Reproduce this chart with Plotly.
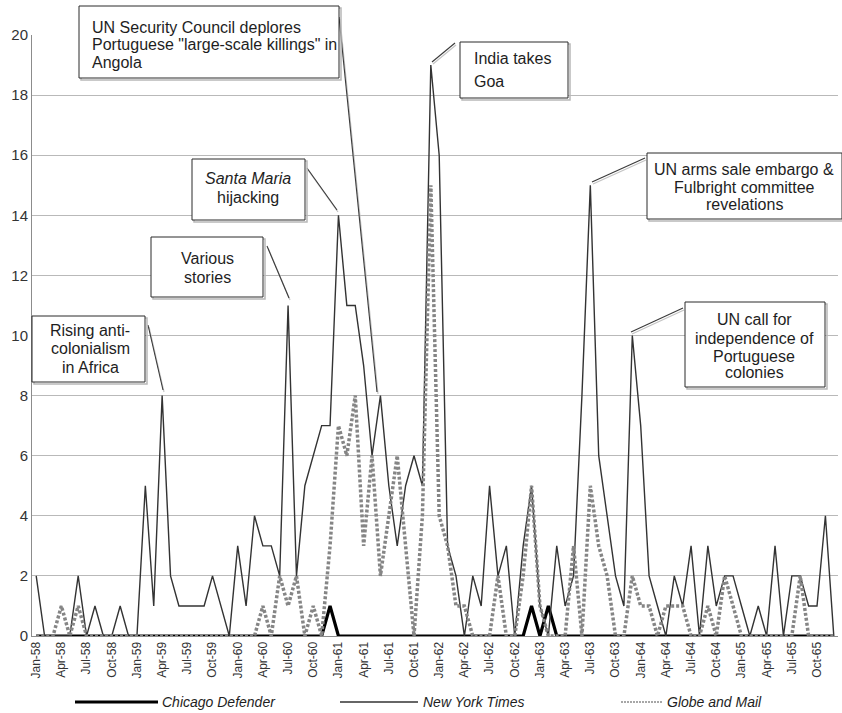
import plotly.graph_objects as go

# ---------------- data ----------------
MONTH_ABBR = ["Jan", "Feb", "Mar", "Apr", "May", "Jun",
              "Jul", "Aug", "Sep", "Oct", "Nov", "Dec"]
YEARS = [58, 59, 60, 61, 62, 63, 64, 65]
months = [f"{m}-{y}" for y in YEARS for m in MONTH_ABBR]

chicago_defender = [
    0, 0, 0, 0, 0, 0, 0, 0, 0, 0, 0, 0,
    0, 0, 0, 0, 0, 0, 0, 0, 0, 0, 0, 0,
    0, 0, 0, 0, 0, 0, 0, 0, 0, 0, 0, 1,
    0, 0, 0, 0, 0, 0, 0, 0, 0, 0, 0, 0,
    0, 0, 0, 0, 0, 0, 0, 0, 0, 0, 0, 1,
    0, 1, 0, 0, 0, 0, 0, 0, 0, 0, 0, 0,
    0, 0, 0, 0, 0, 0, 0, 0, 0, 0, 0, 0,
    0, 0, 0, 0, 0, 0, 0, 0, 0, 0, 0, 0,
]
new_york_times = [
    2, 0, 0, 0, 0, 2, 0, 1, 0, 0, 1, 0,
    0, 5, 1, 8, 2, 1, 1, 1, 1, 2, 1, 0,
    3, 1, 4, 3, 3, 2, 11, 2, 5, 6, 7, 7,
    14, 11, 11, 9, 6, 8, 5, 3, 5, 6, 5, 19,
    16, 3, 2, 0, 2, 1, 5, 2, 3, 0, 3, 5,
    1, 0, 3, 1, 2, 8, 15, 6, 4, 2, 1, 10,
    7, 2, 1, 0, 2, 1, 3, 0, 3, 1, 2, 2,
    1, 0, 1, 0, 3, 0, 2, 2, 1, 1, 4, 0,
]
globe_and_mail = [
    0, 0, 0, 1, 0, 1, 0, 0, 0, 0, 0, 0,
    0, 0, 0, 0, 0, 0, 0, 0, 0, 0, 0, 0,
    0, 0, 0, 1, 0, 2, 1, 2, 0, 1, 0, 3,
    7, 6, 8, 3, 6, 2, 4, 6, 3, 0, 4, 15,
    4, 3, 1, 1, 0, 0, 0, 2, 0, 0, 2, 5,
    1, 0, 0, 0, 3, 0, 5, 3, 2, 0, 0, 2,
    1, 1, 0, 1, 1, 1, 0, 0, 1, 0, 2, 1,
    0, 0, 0, 0, 0, 0, 0, 2, 0, 0, 0, 0,
]
tick_labels = months[::3]
y_ticks = list(range(0, 21, 2))

# ---------------- layout geometry ----------------
W, H = 842, 713
ML, MR, MT, MB = 32, 4, 35, 77
PW, PH = W - ML - MR, H - MT - MB
FONT = "Liberation Sans, Arial, sans-serif"
TXT = "#1e1e1e"


def px(x, y):
    """pixel position -> paper coordinates"""
    return (x - ML) / PW, (H - MB - y) / PH


fig = go.Figure()

fig.add_trace(go.Scatter(x=months, y=chicago_defender, name="Chicago Defender",
                         mode="lines", line=dict(color="#000000", width=3.2),
                         showlegend=False))
fig.add_trace(go.Scatter(x=months, y=new_york_times, name="New York Times",
                         mode="lines", line=dict(color="#333333", width=1.4),
                         showlegend=False))
fig.add_trace(go.Scatter(x=months, y=globe_and_mail, name="Globe and Mail",
                         mode="lines", line=dict(color="#858585", width=3.5, dash="3px,2px"),
                         showlegend=False))

shapes = []
annotations = []


def add_line(x0, y0, x1, y1, color, width, dash=None):
    a0, b0 = px(x0, y0)
    a1, b1 = px(x1, y1)
    ln = dict(color=color, width=width)
    if dash:
        ln["dash"] = dash
    shapes.append(dict(type="line", xref="paper", yref="paper",
                       x0=a0, y0=b0, x1=a1, y1=b1, line=ln, layer="above"))


def add_box(x0, y0, x1, y1):
    # light shadow
    a0, b0 = px(x0 + 2, y0 + 2)
    a1, b1 = px(x1 + 2, y1 + 2)
    shapes.append(dict(type="rect", xref="paper", yref="paper",
                       x0=a0, y0=b1, x1=a1, y1=b0,
                       line=dict(color="#b8b8b8", width=1.5),
                       fillcolor="rgba(0,0,0,0)", layer="above"))
    a0, b0 = px(x0, y0)
    a1, b1 = px(x1, y1)
    shapes.append(dict(type="rect", xref="paper", yref="paper",
                       x0=a0, y0=b1, x1=a1, y1=b0,
                       line=dict(color="#2a2a2a", width=1),
                       fillcolor="#ffffff", layer="above"))


def add_text(x, y, text, anchor="center", size=16, italic=False, color=TXT):
    a, b = px(x, y)
    annotations.append(dict(xref="paper", yref="paper", x=a, y=b, text=text,
                            showarrow=False, xanchor=anchor, yanchor="middle",
                            font=dict(family=FONT, size=size, color=color,
                                      style="italic" if italic else "normal")))


def add_pointer(x0, y0, x1, y1):
    add_line(x0 + 1, y0 + 2, x1 + 1, y1 + 2, "#c4c4c4", 1.2)
    add_line(x0, y0, x1, y1, "#3a3a3a", 1.1)


callouts = [
    # box (x0, y0, x1, y1), lines, anchor x, line ys, anchor, pointer
    ((32, 316, 145, 382), ["Rising anti-", "colonialism", "in Africa"], 90, [330, 348, 367], "center",
     (148, 325, 163, 390)),
    ((151, 237, 263, 297), ["Various", "stories"], 207, [258, 277], "center",
     (267, 246, 289, 298)),
    ((192, 159, 305, 220), ["<i>Santa Maria</i>", "hijacking"], 248, [178, 197], "center",
     (307, 168, 337, 210)),
    ((79, 6, 339, 78), ["UN Security Council deplores",
                        "Portuguese \"large-scale killings\" in", "Angola"],
     90, [27, 45, 63], "left", (339, 17, 377, 392)),
    ((460, 42, 568, 98), ["India takes", "Goa"], 472, [59, 81], "left",
     (455, 43, 432, 62)),
    ((647, 153, 842, 219), ["UN arms sale embargo &", "Fulbright committee", "revelations"],
     744, [169, 187, 205], "center", (645, 158, 592, 182)),
    ((685, 302, 825, 387), ["UN call for", "independence of", "Portuguese", "colonies"],
     754, [319, 338, 356, 373], "center", (683, 308, 631, 332)),
]

for box, lines, tx, tys, anc, ptr in callouts:
    add_pointer(*ptr)
    add_box(*box)
    for t, ty in zip(lines, tys):
        add_text(tx, ty, t, anchor=anc)

# ---------------- legend (drawn manually) ----------------
LEG_Y = 702
add_line(75, LEG_Y, 158, LEG_Y, "#000000", 3.2)
add_text(160, LEG_Y, "Chicago Defender", anchor="left", size=14, italic=True)
add_line(340, LEG_Y, 418, LEG_Y, "#333333", 1.4)
add_text(421, LEG_Y, "New York Times", anchor="left", size=14, italic=True)
add_line(621, LEG_Y, 662, LEG_Y, "#8a8a8a", 1.3, dash="2px,1px")
add_text(665, LEG_Y, "Globe and Mail", anchor="left", size=14, italic=True)

fig.update_layout(
    width=W, height=H,
    margin=dict(l=ML, r=MR, t=MT, b=MB, pad=0, autoexpand=False),
    paper_bgcolor="#ffffff", plot_bgcolor="#ffffff",
    font=dict(family=FONT, color="#333333"),
    shapes=shapes, annotations=annotations,
    showlegend=False,
)
fig.update_xaxes(
    type="category", categoryorder="array", categoryarray=months,
    range=[-0.5, len(months) - 0.5],
    tickmode="array", tickvals=tick_labels, ticktext=tick_labels,
    tickangle=-90, tickfont=dict(size=12, color="#333333", family=FONT),
    showgrid=False, showline=True, linecolor="#8c8c8c", linewidth=1,
    ticks="", zeroline=False, automargin=False,
)
fig.update_yaxes(
    range=[0, 20], tickmode="array", tickvals=y_ticks,
    tickfont=dict(size=15, color="#333333", family=FONT),
    showgrid=True, gridcolor="#b9b9b9", gridwidth=1,
    showline=True, linecolor="#8c8c8c", linewidth=1,
    zeroline=False, ticks="", automargin=False,
)

fig.write_html(
    "out.html",
    config={"displayModeBar": False},
    post_script="document.body.style.margin='0px';document.body.style.overflow='hidden';",
)
